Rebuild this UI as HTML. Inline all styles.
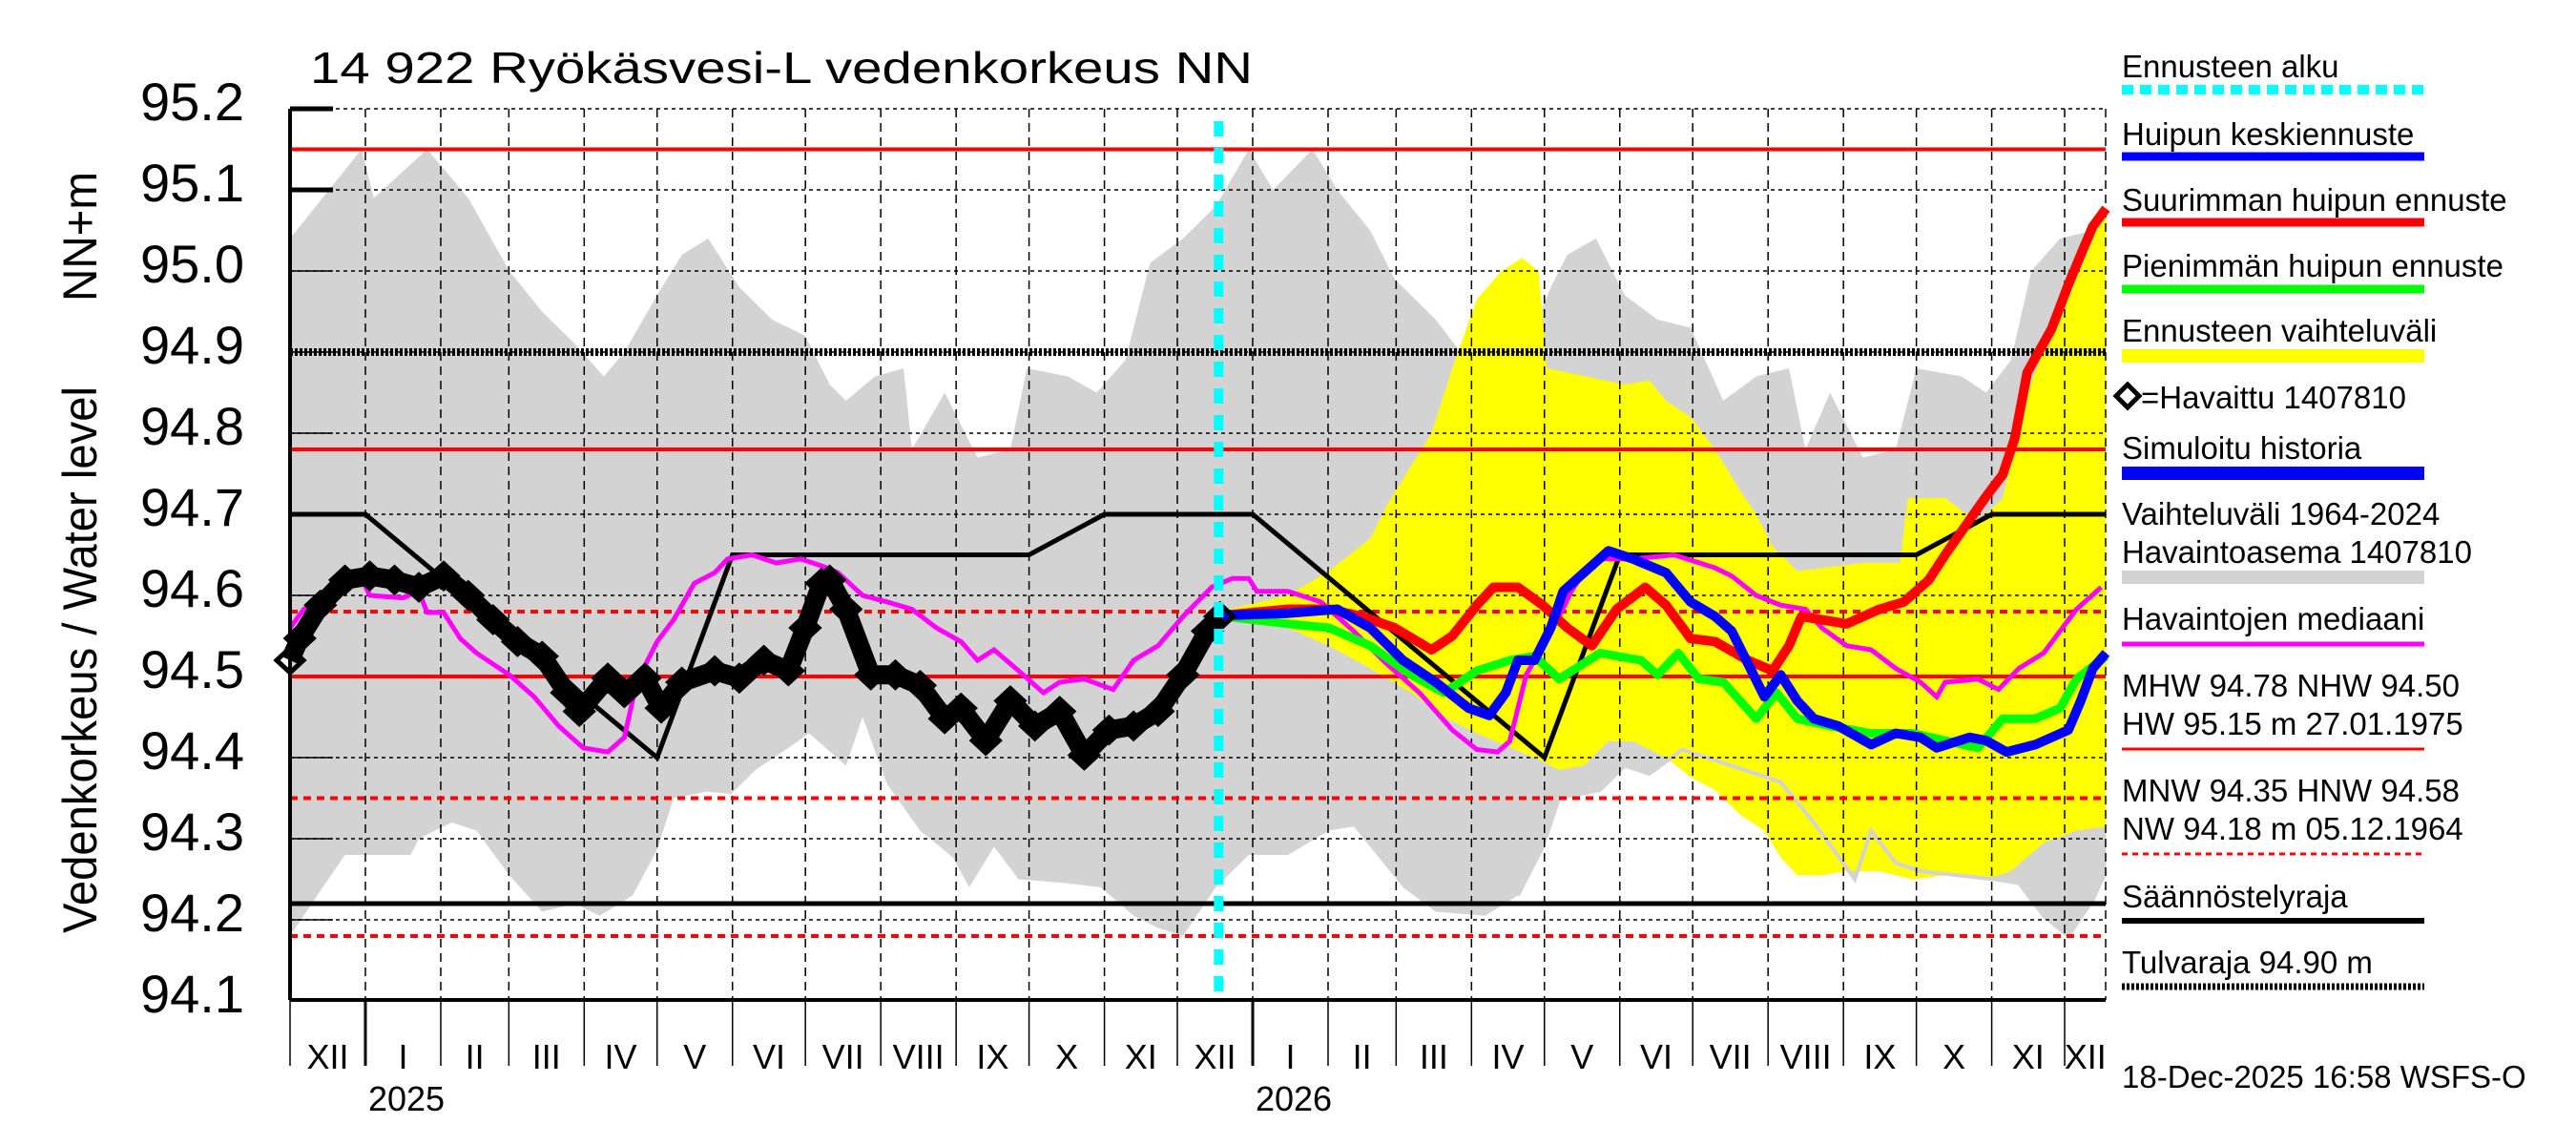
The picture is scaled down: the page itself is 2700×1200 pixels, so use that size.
<!DOCTYPE html>
<html><head><meta charset="utf-8"><style>
html,body{margin:0;padding:0;background:#fff}
svg{display:block;font-family:"Liberation Sans",sans-serif}
</style></head><body>
<svg id="chart" width="2700" height="1200" viewBox="0 0 2700 1200" xmlns="http://www.w3.org/2000/svg">
<rect x="0" y="0" width="2700" height="1200" fill="#fff"/>
<text x="325" y="87" font-size="46" textLength="988" lengthAdjust="spacingAndGlyphs">14 922 Ryökäsvesi-L vedenkorkeus NN</text>
<text transform="translate(101,978) rotate(-90)" font-size="50" textLength="573" lengthAdjust="spacingAndGlyphs">Vedenkorkeus / Water level</text>
<text transform="translate(101,316) rotate(-90)" font-size="50" textLength="136" lengthAdjust="spacingAndGlyphs">NN+m</text>
<g id="plot"></g>
<g id="legend"></g>
</svg>
<script>
// ---- data ----
const monthStartDays = [0,31,62,90,121,151,182,212,243,274,304,335,365,396,427,455,486,516,547,577,608,639,669,700,730,747];
const monthLabels = ["XII","I","II","III","IV","V","VI","VII","VIII","IX","X","XI","XII","I","II","III","IV","V","VI","VII","VIII","IX","X","XI","XII"];
const yTicks = [95.2,95.1,95.0,94.9,94.8,94.7,94.6,94.5,94.4,94.3,94.2,94.1];
const yTickLabels = ["95.2","95.1","95.0","94.9","94.8","94.7","94.6","94.5","94.4","94.3","94.2","94.1"];
const yearLabels = ["2025","2026"];
const yearDays = [31,396];
const forecastStartDay = 382;
const histUpperDays = [0,29.4,34.5,56.4,73.3,90.2,103.7,117.2,129.1,137.5,151,161.2,172,184.8,198.3,211.9,222,228.7,240.6,252.4,255.8,269.3,282.8,296.3,303.1,320,331.8,343.6,353.8,367.3,380.8,394.4,404.4,420.6,430.8,444.3,454.4,471.3,481.5,495,505.1,518.6,525.4,537.2,549,562.6,576.1,589.6,603.1,616.6,623.4,633.5,647,660.5,669,687.6,697.7,707.9,716.3,728.1,741.6,747];
const histUpperVals = [95.04,95.15,95.09,95.15,95.09,95.00,94.95,94.91,94.87,94.90,94.97,95.02,95.04,94.98,94.94,94.92,94.86,94.84,94.87,94.88,94.78,94.85,94.77,94.78,94.88,94.87,94.85,94.89,95.01,95.04,95.08,95.15,95.10,95.15,95.10,95.05,94.99,94.94,94.90,94.87,94.88,94.98,95.02,95.04,94.97,94.94,94.93,94.84,94.87,94.88,94.78,94.85,94.77,94.78,94.88,94.87,94.85,94.89,95.00,95.04,95.05,95.06];
const histLowerDays = [0,12.5,22.6,49.6,53,66.5,76.7,90.2,103.7,117.2,127.4,140.9,151,157.8,171.3,181.4,191.6,205.1,213.5,228.7,235.5,245.6,259.2,272.7,279.4,289.6,299.7,320,333.5,347,357.1,367.3,380.8,394.4,410.5,427.4,437.5,444.3,457.8,471.3,491.6,505.1,515.3,522,538.9,549,559.2,572.7,593,613.2,626.8,643.7,650.4,660.5,670.7,701.1,711.2,721.4,731.5,741.6,747];
const histLowerVals = [94.18,94.236,94.28,94.28,94.30,94.32,94.31,94.255,94.21,94.22,94.205,94.23,94.286,94.35,94.358,94.355,94.385,94.412,94.43,94.39,94.45,94.367,94.31,94.277,94.24,94.29,94.25,94.245,94.24,94.205,94.19,94.18,94.24,94.28,94.28,94.31,94.315,94.29,94.24,94.21,94.205,94.23,94.29,94.35,94.36,94.39,94.38,94.41,94.39,94.37,94.32,94.25,94.31,94.27,94.26,94.25,94.245,94.205,94.18,94.225,94.26];
const fcUpperDays = [382,410.5,427.4,444.3,451,461.2,469.6,478.1,488.2,498.4,506.8,513.6,517,549,559.2,566,576.1,586.2,596.3,603.1,609.9,620,647,662.2,665.6,680.8,694.3,704.5,714.6,724.7,734.9,747];
const fcUpperVals = [94.58,94.60,94.63,94.67,94.71,94.76,94.80,94.88,94.965,95.00,95.016,95.00,94.88,94.86,94.865,94.84,94.82,94.78,94.73,94.70,94.66,94.63,94.64,94.64,94.72,94.72,94.69,94.72,94.85,94.93,95.00,95.08];
const fcLowerDays = [382,410.5,427.4,444.3,461.2,474.7,488.2,511.9,522,532.1,542.3,552.4,566,576.1,586.2,596.3,606.5,613.2,620,630.1,640.3,653.8,667.3,680.8,697.7,707.9,721.4,734.9,747];
const fcLowerVals = [94.575,94.56,94.538,94.51,94.48,94.45,94.43,94.40,94.385,94.39,94.42,94.42,94.40,94.376,94.36,94.33,94.31,94.277,94.255,94.255,94.26,94.26,94.25,94.255,94.25,94.26,94.295,94.31,94.315];
const regDays = [0,31,151,182,304,335,396,516,547,669,700,747];
const regVals = [94.70,94.70,94.40,94.65,94.65,94.70,94.70,94.40,94.65,94.65,94.70,94.70];
const obsDays = [0,4,12.5,22.6,32.8,43,53,63.2,73.3,83.5,93.6,103.7,113.8,119,130.7,137.5,146,152.7,161.2,174.7,184.8,194.9,205,211.9,218.6,222,228.7,238.9,249,259.2,269.3,276,286.2,296.3,306.4,316.6,326.7,336.9,347,357.1,367.3,377.4,382.5];
const obsVals = [94.52,94.547,94.588,94.619,94.624,94.619,94.61,94.624,94.60,94.57,94.543,94.525,94.48,94.457,94.498,94.48,94.498,94.461,94.493,94.507,94.498,94.52,94.507,94.56,94.615,94.619,94.583,94.502,94.502,94.489,94.448,94.461,94.421,94.47,94.439,94.457,94.403,94.434,94.439,94.457,94.502,94.556,94.574];
const medDays = [0,5.7,12.5,19.3,22.6,29.4,32.8,46.3,53,56.4,63.2,70,76.7,90.2,100.4,110.5,120.6,130.7,137.5,142.6,151,157.8,166.3,174.7,180,190,200,210,220,225.4,235.5,245.6,255.8,265.9,276,282.8,289.6,299.7,309.9,316.6,326.7,338.6,347,357.1,367.3,379.1,387.6,394.4,397.7,410.5,424,437.5,451,464.6,478.1,488.2,496.7,501.7,508.5,515.3,522,527.1,532.1,539,552.4,569.3,586.2,593,603.1,613.2,623.4,630.1,640.3,650.4,660.5,670.7,677.4,680.8,694.3,702.8,711.2,721.4,728.1,734.9,745];
const medVals = [94.56,94.583,94.592,94.61,94.621,94.621,94.60,94.597,94.605,94.579,94.579,94.547,94.529,94.502,94.475,94.439,94.412,94.407,94.425,94.493,94.543,94.57,94.615,94.628,94.645,94.65,94.64,94.645,94.635,94.628,94.60,94.592,94.583,94.56,94.543,94.52,94.533,94.507,94.48,94.493,94.497,94.484,94.52,94.538,94.574,94.61,94.621,94.621,94.605,94.605,94.592,94.556,94.516,94.48,94.434,94.41,94.407,94.42,94.502,94.538,94.574,94.605,94.628,94.645,94.645,94.65,94.634,94.624,94.60,94.588,94.583,94.56,94.538,94.533,94.51,94.493,94.475,94.493,94.497,94.484,94.51,94.529,94.556,94.583,94.61];
const maxDays = [382,410.5,427.4,441,454.4,469.6,478.1,488.2,495,505.1,515.3,525.4,535.5,545.7,557.5,566,576.1,586.2,599.7,609.9,616.6,621.7,630.1,640.3,653.8,663.9,674.1,680.8,697.7,704.5,709.5,714.6,724.7,731.5,736.6,741.6,747];
const maxVals = [94.575,94.583,94.583,94.574,94.56,94.533,94.55,94.588,94.61,94.61,94.588,94.56,94.538,94.583,94.61,94.588,94.547,94.543,94.52,94.507,94.538,94.574,94.57,94.565,94.583,94.592,94.619,94.65,94.722,94.749,94.794,94.875,94.929,94.983,95.02,95.055,95.077];
const meanDays = [382,410.5,430.8,444.3,457.8,471.3,484.8,493.3,500.1,505.1,511.9,518.6,523.7,542.3,552.4,566,576.1,586.2,593,599.7,606.5,613.2,620,626.8,636.9,650.4,660.5,670.7,677.4,690.9,697.7,706.1,717.9,731.5,736.6,741.6,747];
const meanVals = [94.575,94.578,94.583,94.56,94.52,94.493,94.461,94.452,94.48,94.52,94.52,94.56,94.605,94.655,94.645,94.628,94.592,94.574,94.556,94.516,94.475,94.502,94.47,94.448,94.439,94.416,94.43,94.425,94.412,94.425,94.421,94.407,94.416,94.434,94.47,94.51,94.529];
const minDays = [382,410.5,427.4,444.3,461.2,474.7,488.2,501.7,511.9,522,538.9,555.7,562.6,571,579.5,589.6,603.1,611.5,620,633.5,650.4,667.3,680.8,694.3,704.5,717.9,728.1,734.9,747];
const minVals = [94.575,94.565,94.56,94.538,94.502,94.48,94.507,94.52,94.525,94.497,94.529,94.52,94.502,94.529,94.497,94.493,94.448,94.48,94.448,94.439,94.43,94.43,94.421,94.412,94.448,94.448,94.461,94.497,94.525];
const refLevels = [95.15,94.78,94.50];
const refDashedLevels = [94.58,94.35,94.18];
const floodLevel = 94.90;
const regulationLimit = 94.22;

// ---- axes ----
const X0=304, PXD=2.548, Y0=114, PXV=850, XR=2207, YB=1048;
const xs = d => X0 + d*PXD;
const ys = v => Y0 + (95.2 - v)*PXV;
const NS="http://www.w3.org/2000/svg";
const plot=document.getElementById('plot');
function mk(tag, attrs, parent){const e=document.createElementNS(NS,tag);for(const k in attrs)e.setAttribute(k,attrs[k]);(parent||plot).appendChild(e);return e;}
function pts(ds,vs){return ds.map((d,i)=>xs(d).toFixed(1)+','+ys(vs[i]).toFixed(1)).join(' ');}

// grey historical band
let band = mk('polygon',{points: pts(histUpperDays,histUpperVals)+' '+pts(histLowerDays.slice().reverse(),histLowerVals.slice().reverse()), fill:'#d3d3d3'});


// yellow forecast band
let yb = mk('polygon',{points: pts(fcUpperDays,fcUpperVals)+' '+pts(fcLowerDays.slice().reverse(),fcLowerVals.slice().reverse()), fill:'#ffff00'});


let gl = mk('polyline',{points: pts(histLowerDays.filter(d=>d>=505),histLowerVals.filter((v,i)=>histLowerDays[i]>=505)), fill:'none', stroke:'#d3d3d3','stroke-width':4});



// grid
yTicks.forEach((v,i)=>{
  if(v>94.15){
    let g=mk('line',{x1:X0,x2:XR,y1:ys(v),y2:ys(v),stroke:'#000','stroke-width':1.5,'stroke-dasharray':'4,4'});
    
    
  }
  let tk=mk('line',{x1:X0,x2:X0+45,y1:ys(v),y2:ys(v),stroke:'#000','stroke-width':(i<2?5:1.5)});
  
  
  let t=mk('text',{x:256,y:ys(v)+12,'font-size':56,'text-anchor':'end'});
  t.textContent=yTickLabels[i];
  
  
});
monthStartDays.forEach((d,i)=>{
  if(i>0 && i<monthStartDays.length-1){
    let g=mk('line',{x1:xs(d),x2:xs(d),y1:Y0,y2:YB,stroke:'#000','stroke-width':1.5,'stroke-dasharray':'9,6'});
    
    
  }
  if(i<monthStartDays.length-1){
    let tk=mk('line',{x1:xs(d),x2:xs(d),y1:YB,y2:1117,stroke:'#000','stroke-width':(yearDays.includes(d)?3:1.5)});
    
    
    let t=mk('text',{x:(xs(d)+xs(monthStartDays[i+1]))/2,y:1120,'font-size':36,'text-anchor':'middle'});
    t.textContent=monthLabels[i];
    
    
  }
});
yearLabels.forEach((y,i)=>{
  let t=mk('text',{x:xs(yearDays[i])+43,y:1164,'font-size':36,'text-anchor':'middle'});
  t.textContent=y;
  
  
});
// right border dashed
let rb=mk('line',{x1:XR,x2:XR,y1:Y0,y2:YB,stroke:'#000','stroke-width':1.5,'stroke-dasharray':'9,6'});



// reference lines
refLevels.forEach(v=>{
  let l=mk('line',{x1:X0,x2:XR,y1:ys(v),y2:ys(v),stroke:'#ff0000','stroke-width':4});
  
  
});
refDashedLevels.forEach(v=>{
  let l=mk('line',{x1:X0,x2:XR,y1:ys(v),y2:ys(v),stroke:'#ff0000','stroke-width':4,'stroke-dasharray':'8,6'});
  
  
});
let fl=mk('line',{x1:X0,x2:XR,y1:ys(floodLevel),y2:ys(floodLevel),stroke:'#000','stroke-width':8,'stroke-dasharray':'3,2'});


let rl=mk('line',{x1:X0,x2:XR,y1:ys(regulationLimit),y2:ys(regulationLimit),stroke:'#000','stroke-width':5});



// regulation curve
let reg=mk('polyline',{points:pts(regDays,regVals),fill:'none',stroke:'#000','stroke-width':5});


// median
let med=mk('polyline',{points:pts(medDays,medVals),fill:'none',stroke:'#ff00ff','stroke-width':5});


// forecasts
let mx=mk('polyline',{points:pts(maxDays,maxVals),fill:'none',stroke:'#ff0000','stroke-width':10,'stroke-linejoin':'round'});


let mn=mk('polyline',{points:pts(minDays,minVals),fill:'none',stroke:'#00ff00','stroke-width':9,'stroke-linejoin':'round'});


let me=mk('polyline',{points:pts(meanDays,meanVals),fill:'none',stroke:'#0000ff','stroke-width':10,'stroke-linejoin':'round'});


// observed
let ob=mk('polyline',{points:pts(obsDays,obsVals),fill:'none',stroke:'#000','stroke-width':20,'stroke-linejoin':'round'});


obsDays.forEach((d,i)=>{
  const x=xs(d), y=ys(obsVals[i]);
  let dm=mk('polygon',{points:`${x-14},${y} ${x},${y-13} ${x+14},${y} ${x},${y+13}`,fill:'none',stroke:'#000','stroke-width':5});
  
  
});
// forecast start
let fs=mk('line',{x1:xs(forecastStartDay),x2:xs(forecastStartDay),y1:127,y2:YB,stroke:'#00ffff','stroke-width':10,'stroke-dasharray':'16,12'});


// axes
let ax=mk('line',{x1:X0,x2:XR,y1:YB,y2:YB,stroke:'#000','stroke-width':4});


let ay=mk('line',{x1:X0,x2:X0,y1:Y0,y2:YB,stroke:'#000','stroke-width':4});



// legend
const lg=document.getElementById('legend');
const LX=2224, LX2=2541;
function ltext(s,y,name){let t=mk('text',{x:LX,y:y,'font-size':33},lg);t.textContent=s;return t;}
function lline(y,color,w,dash,name){let a={x1:LX,x2:LX2,y1:y,y2:y,stroke:color,'stroke-width':w};if(dash)a['stroke-dasharray']=dash;let l=mk('line',a,lg);}
ltext('Ennusteen alku',81,'legend-forecast-start-label'); lline(94,'#00ffff',10,'12,7','legend-forecast-start-swatch');
ltext('Huipun keskiennuste',152,'legend-mean-label'); lline(164,'#0000ff',9,null,'legend-mean-swatch');
ltext('Suurimman huipun ennuste',221,'legend-max-label'); lline(233,'#ff0000',9,null,'legend-max-swatch');
ltext('Pienimmän huipun ennuste',290,'legend-min-label'); lline(303,'#00ff00',9,null,'legend-min-swatch');
ltext('Ennusteen vaihteluväli',358,'legend-range-label'); lline(373,'#ffff00',14,null,'legend-range-swatch');
let ld=mk('polygon',{points:`${LX-6},415 ${LX+6},403 ${LX+18},415 ${LX+6},427`,fill:'none',stroke:'#000','stroke-width':5},lg);


let lo=mk('text',{x:LX+20,y:428,'font-size':33},lg);lo.textContent='=Havaittu 1407810';


ltext('Simuloitu historia',481,'legend-simulated-label'); lline(496,'#0000ff',14,null,'legend-simulated-swatch');
ltext('Vaihteluväli 1964-2024',550,'legend-hist-range-label');
ltext('Havaintoasema 1407810',590,'legend-station-label'); lline(605,'#d3d3d3',14,null,'legend-hist-range-swatch');
ltext('Havaintojen mediaani',660,'legend-median-label'); lline(675,'#ff00ff',5,null,'legend-median-swatch');
ltext('MHW  94.78 NHW  94.50',730,'legend-mhw-label');
ltext('HW  95.15 m 27.01.1975',770,'legend-hw-label'); lline(785,'#ff0000',3,null,'legend-hw-swatch');
ltext('MNW  94.35 HNW  94.58',840,'legend-mnw-label');
ltext('NW  94.18 m 05.12.1964',880,'legend-nw-label'); lline(895,'#ff0000',3,'6,5','legend-nw-swatch');
ltext('Säännöstelyraja',951,'legend-regulation-label'); lline(965,'#000',6,null,'legend-regulation-swatch');
ltext('Tulvaraja 94.90 m',1020,'legend-flood-label'); lline(1034,'#000',7,'3,2','legend-flood-swatch');
ltext('18-Dec-2025 16:58 WSFS-O',1140,'timestamp-label');
</script>
</body></html>
